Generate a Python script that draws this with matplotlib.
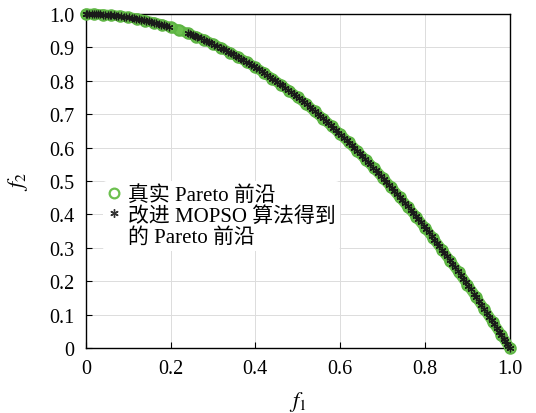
import numpy as np
import matplotlib.pyplot as plt
from matplotlib.lines import Line2D

plt.rcParams['font.family'] = ['Liberation Serif', 'Noto Sans CJK SC']
plt.rcParams['mathtext.fontset'] = 'stix'

# true Pareto front
f1_true = [0.00, 0.02, 0.04, 0.06, 0.08, 0.10, 0.12, 0.14, 0.16, 0.18,
           0.20, 0.22, 0.24, 0.26, 0.28, 0.30, 0.32, 0.34, 0.36, 0.38,
           0.40, 0.42, 0.44, 0.46, 0.48, 0.50, 0.52, 0.54, 0.56, 0.58,
           0.60, 0.62, 0.64, 0.66, 0.68, 0.70, 0.72, 0.74, 0.76, 0.78,
           0.80, 0.82, 0.84, 0.86, 0.88, 0.90, 0.92, 0.94, 0.96, 0.98, 1.00]
f2_true = [1.000, 1.000, 0.998, 0.996, 0.994, 0.990, 0.986, 0.980, 0.974, 0.968,
           0.960, 0.952, 0.942, 0.932, 0.922, 0.910, 0.898, 0.884, 0.870, 0.856,
           0.840, 0.824, 0.806, 0.788, 0.770, 0.750, 0.730, 0.708, 0.686, 0.664,
           0.640, 0.616, 0.590, 0.564, 0.538, 0.510, 0.482, 0.452, 0.422, 0.392,
           0.360, 0.328, 0.294, 0.260, 0.226, 0.190, 0.154, 0.116, 0.078, 0.040, 0.000]

# improved MOPSO front
f1_mopso = [0.0, 0.008, 0.015, 0.025, 0.034, 0.041, 0.052, 0.06, 0.071, 0.083,
            0.09, 0.102, 0.113, 0.125, 0.137, 0.148, 0.16, 0.172, 0.185, 0.196,
            0.24, 0.252, 0.263, 0.271, 0.284, 0.295, 0.31, 0.318, 0.33, 0.342,
            0.355, 0.366, 0.378, 0.39, 0.401, 0.415, 0.428, 0.44, 0.452, 0.463,
            0.477, 0.49, 0.503, 0.515, 0.528, 0.54, 0.553, 0.566, 0.578, 0.59,
            0.602, 0.615, 0.627, 0.64, 0.652, 0.665, 0.678, 0.69, 0.703, 0.716,
            0.728, 0.741, 0.753, 0.766, 0.778, 0.79, 0.803, 0.816, 0.828, 0.84,
            0.852, 0.865, 0.878, 0.89, 0.902, 0.915, 0.927, 0.94, 0.952, 0.963,
            0.975, 0.986, 0.994, 1.0,
            0.004, 0.02, 0.03, 0.046, 0.056, 0.066, 0.077, 0.096, 0.108, 0.119,
            0.131, 0.143, 0.154, 0.166, 0.178, 0.19, 0.246, 0.258, 0.278, 0.29,
            0.303, 0.324, 0.336, 0.348, 0.36, 0.372, 0.384, 0.396, 0.408, 0.421,
            0.434, 0.446, 0.458, 0.47, 0.484, 0.497, 0.509, 0.521, 0.534, 0.547,
            0.559, 0.572, 0.584, 0.596, 0.608, 0.621, 0.633, 0.646, 0.658, 0.671,
            0.684, 0.697, 0.709, 0.722, 0.734, 0.747, 0.759, 0.772, 0.784, 0.797,
            0.809, 0.822, 0.834, 0.846, 0.858, 0.871, 0.884, 0.896, 0.908, 0.921,
            0.933, 0.946, 0.957, 0.969, 0.98, 0.99, 0.997]
f2_mopso = [1.000, 1.000, 1.000, 0.999, 0.999, 0.998, 0.997, 0.996, 0.995, 0.993,
            0.992, 0.990, 0.987, 0.984, 0.981, 0.978, 0.974, 0.970, 0.966, 0.962,
            0.942, 0.936, 0.931, 0.927, 0.919, 0.913, 0.904, 0.899, 0.891, 0.883,
            0.874, 0.866, 0.857, 0.848, 0.839, 0.828, 0.817, 0.806, 0.796, 0.786,
            0.772, 0.760, 0.747, 0.735, 0.721, 0.708, 0.694, 0.680, 0.666, 0.652,
            0.638, 0.622, 0.607, 0.590, 0.575, 0.558, 0.540, 0.524, 0.506, 0.487,
            0.470, 0.451, 0.433, 0.413, 0.395, 0.376, 0.355, 0.334, 0.314, 0.294,
            0.274, 0.252, 0.229, 0.208, 0.186, 0.163, 0.141, 0.116, 0.094, 0.073,
            0.049, 0.028, 0.012, 0.000,
            1.000, 1.000, 0.999, 0.998, 0.997, 0.996, 0.994, 0.991, 0.988, 0.986,
            0.983, 0.980, 0.976, 0.972, 0.968, 0.964, 0.939, 0.933, 0.923, 0.916,
            0.908, 0.895, 0.887, 0.879, 0.870, 0.862, 0.853, 0.843, 0.834, 0.823,
            0.812, 0.801, 0.790, 0.779, 0.766, 0.753, 0.741, 0.729, 0.715, 0.701,
            0.688, 0.673, 0.659, 0.645, 0.630, 0.614, 0.599, 0.583, 0.567, 0.550,
            0.532, 0.514, 0.497, 0.479, 0.461, 0.442, 0.424, 0.404, 0.385, 0.365,
            0.346, 0.324, 0.304, 0.284, 0.264, 0.241, 0.219, 0.197, 0.176, 0.152,
            0.130, 0.105, 0.084, 0.061, 0.040, 0.020, 0.006]

legend_labels = ['真实 Pareto 前沿', '改进 MOPSO 算法得到', '的 Pareto 前沿']

fig = plt.figure(figsize=(5.36, 4.14), dpi=100)
ax = fig.add_axes([0.160, 0.157, 0.791, 0.807])

green = '#6cc04f'
ax.plot(f1_true, f2_true, color=green, linewidth=7.5, solid_capstyle='round',
        clip_on=False, zorder=3)
ax.plot(f1_true, f2_true, linestyle='none', marker='o', markersize=7.5,
        markerfacecolor='none', markeredgecolor='#5db443', markeredgewidth=1.5,
        clip_on=False, zorder=3)
ax.plot(f1_mopso, f2_mopso, linestyle='none', marker=(6, 2, 0), markersize=5.5,
        color='#1a1a1a', markeredgewidth=0.9, clip_on=False, zorder=4)

ax.set_xlim(0, 1)
ax.set_ylim(0, 1)
ax.set_xticks(np.arange(0, 1.01, 0.2))
ax.set_xticklabels(['0', '0.2', '0.4', '0.6', '0.8', '1.0'])
ax.set_yticks(np.arange(0, 1.01, 0.1))
ax.set_yticklabels(['0', '0.1', '0.2', '0.3', '0.4', '0.5', '0.6', '0.7', '0.8', '0.9', '1.0'])
ax.tick_params(direction='in', length=4, width=0.8, labelsize=14.5, pad=8)
ax.grid(color='#dcdcdc', linewidth=0.7)
ax.set_axisbelow(True)
for s in ax.spines.values():
    s.set_linewidth(1.0)

ax.set_xlabel('$f_1$', fontsize=16, labelpad=8)
ax.set_ylabel('$f_2$', fontsize=16, labelpad=14)

handles = [
    Line2D([], [], linestyle='none', marker='o', markersize=7,
           markerfacecolor='none', markeredgecolor=green, markeredgewidth=1.6),
    Line2D([], [], linestyle='none', marker=(6, 2, 0), markersize=6,
           color='#333333', markeredgewidth=1.0),
    Line2D([], [], linestyle='none'),
]
leg = ax.legend(handles, legend_labels, loc='upper left',
                bbox_to_anchor=(0.04, 0.5), fontsize=15,
                frameon=True, edgecolor='none', facecolor='white', framealpha=1,
                handlelength=0.7, handletextpad=0.3, borderaxespad=0.0,
                labelspacing=0.05, borderpad=0.2)

plt.savefig('out.png', dpi=100)
